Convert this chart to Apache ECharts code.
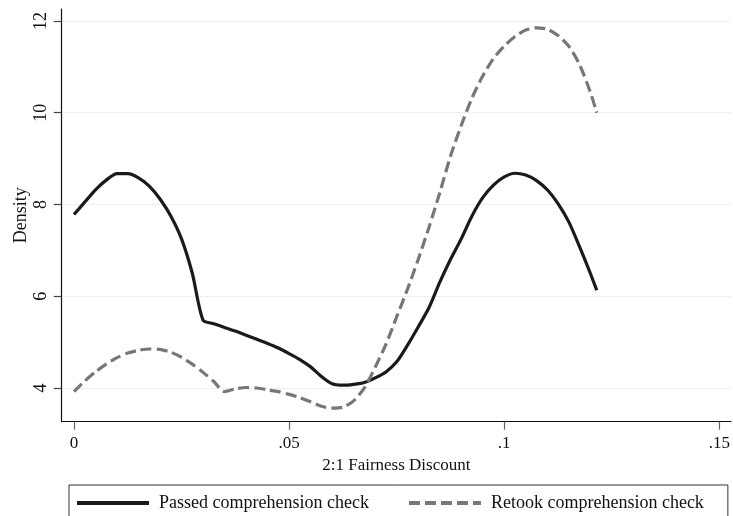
<!DOCTYPE html>
<html>
<head>
<meta charset="utf-8">
<script src="https://cdn.jsdelivr.net/npm/echarts@6/dist/echarts.min.js"></script>
<style>
html,body{margin:0;padding:0;background:#fff;}
#chart{width:733px;height:516px;}
</style>
</head>
<body>
<div id="chart"></div>
<script>
const seriesNames = ['Passed comprehension check', 'Retook comprehension check'];
const xTicks = [0, 0.05, 0.1, 0.15];
const xTickLabels = ['0', '.05', '.1', '.15'];
const yTicks = [4, 6, 8, 10, 12];

const passedX = [0,0.0025,0.005,0.0075,0.01,0.0125,0.015,0.0175,0.02,0.0225,0.025,0.0275,0.03,0.0325,0.035,0.0375,0.04,0.0425,0.045,0.0475,0.05,0.0525,0.055,0.0575,0.06,0.0625,0.065,0.0675,0.07,0.0725,0.075,0.0775,0.08,0.0825,0.085,0.0875,0.09,0.0925,0.095,0.0975,0.1,0.1025,0.105,0.1075,0.11,0.1125,0.115,0.1175,0.12,0.1215];
const passedY = [7.78,8.05,8.32,8.53,8.67,8.67,8.58,8.40,8.12,7.75,7.25,6.50,5.48,5.40,5.32,5.24,5.15,5.06,4.97,4.87,4.75,4.62,4.46,4.25,4.09,4.06,4.08,4.12,4.22,4.35,4.57,4.93,5.33,5.75,6.30,6.80,7.25,7.75,8.15,8.42,8.60,8.68,8.64,8.52,8.32,8.02,7.62,7.08,6.50,6.13];

const retookX = [0,0.0025,0.005,0.0075,0.01,0.0125,0.015,0.0175,0.02,0.0225,0.025,0.0275,0.03,0.0325,0.035,0.0375,0.04,0.0425,0.045,0.0475,0.05,0.0525,0.055,0.0575,0.06,0.0625,0.065,0.0675,0.07,0.0725,0.075,0.0775,0.08,0.0825,0.085,0.0875,0.09,0.0925,0.095,0.0975,0.1,0.1025,0.105,0.1075,0.11,0.1125,0.115,0.1175,0.12,0.1215];
const retookY = [3.92,4.15,4.35,4.52,4.66,4.76,4.82,4.85,4.84,4.78,4.67,4.52,4.34,4.14,3.92,3.98,4.01,4.00,3.96,3.92,3.86,3.79,3.70,3.60,3.56,3.58,3.72,4.00,4.45,4.95,5.55,6.15,6.80,7.50,8.25,9.05,9.72,10.32,10.80,11.18,11.45,11.66,11.80,11.85,11.82,11.68,11.45,11.05,10.45,10.00];

const FONT = '"Liberation Serif", "DejaVu Serif", serif';
const chart = echarts.init(document.getElementById('chart'), null, {renderer: 'canvas'});
chart.setOption({
  animation: false,
  backgroundColor: '#ffffff',
  textStyle: {fontFamily: FONT, color: '#111'},
  grid: {left: 61.7, right: 0, top: 9, bottom: 94.3, containLabel: false},
  xAxis: {
    type: 'value',
    min: -0.00285, max: 0.1527,
    name: '2:1 Fairness Discount',
    nameLocation: 'middle', nameGap: 33,
    nameTextStyle: {fontFamily: FONT, fontSize: 17, color: '#111'},
    axisLine: {show: true, onZero: false, lineStyle: {color: '#111', width: 1.2}},
    axisTick: {show: true, length: 8, customValues: xTicks, lineStyle: {color: '#666', width: 1.2}},
    axisLabel: {customValues: xTicks, margin: 13, fontFamily: FONT, fontSize: 17, color: '#111',
      formatter: function (v) { const i = xTicks.findIndex(t => Math.abs(t - v) < 1e-9); return i >= 0 ? xTickLabels[i] : ''; }},
    splitLine: {show: false}
  },
  yAxis: {
    type: 'value',
    min: 3.265, max: 12.26,
    name: 'Density',
    nameLocation: 'middle', nameGap: 31, nameRotate: 90, nameMoveOverlap: false,
    nameTextStyle: {fontFamily: FONT, fontSize: 18, color: '#111'},
    axisLine: {show: true, onZero: false, lineStyle: {color: '#111', width: 1.2}},
    axisTick: {show: true, length: 8, customValues: yTicks, lineStyle: {color: '#444', width: 1.2}},
    axisLabel: {customValues: yTicks, rotate: 90, margin: 11, fontFamily: FONT, fontSize: 18, color: '#111'},
    splitLine: {show: true, lineStyle: {color: '#e8f0f2', width: 1.2}}
  },
  legend: {
    left: 69, top: 485,
    orient: 'horizontal',
    itemWidth: 72, itemHeight: 6, itemGap: 38,
    padding: [9, 24, 40, 6],
    borderColor: '#333', borderWidth: 1,
    itemStyle: {color: 'rgba(0,0,0,0)', borderWidth: 0, opacity: 0},
    lineStyle: {width: 4},
    textStyle: {fontFamily: FONT, fontSize: 18, color: '#111', padding: [0, 0, 0, 5]},
    data: seriesNames
  },
  series: [
    {
      name: seriesNames[0], type: 'line', showSymbol: false, symbol: 'none', smooth: 0.25,
      data: passedX.map((x, i) => [x, passedY[i]]),
      lineStyle: {color: '#1a1a1a', width: 3.2, type: 'solid'},
      itemStyle: {color: '#1a1a1a'}
    },
    {
      name: seriesNames[1], type: 'line', showSymbol: false, symbol: 'none', smooth: 0.25,
      data: retookX.map((x, i) => [x, retookY[i]]),
      lineStyle: {color: '#777777', width: 3.2, type: [11, 5]},
      itemStyle: {color: '#777777'}
    }
  ]
});
</script>
</body>
</html>
